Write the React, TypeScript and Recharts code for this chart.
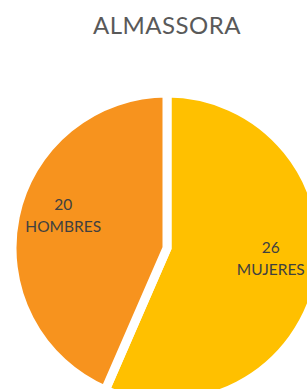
import React from "react";
import { PieChart, Pie, Cell } from "recharts";

const categories = ["MUJERES", "HOMBRES"];
const values = [26, 20];
const colors = ["#FFC000", "#F7931E"];
const title = "ALMASSORA";

const data = categories.map((name, i) => ({ name, value: values[i] }));
const total = values.reduce((a, b) => a + b, 0);

const CX = 167;
const CY = 248;
const RAD = Math.PI / 180;
const FONT = "Lato, 'Open Sans', sans-serif";

const labelPos = (index: number) => {
  const before = values.slice(0, index).reduce((a, b) => a + b, 0);
  const midFrac = (before + values[index] / 2) / total;
  const ang = (90 - 360 * midFrac) * RAD;
  const r = 106;
  return { x: CX + r * Math.cos(ang), y: CY - r * Math.sin(ang) - 16.5 };
};

export default function App() {
  return (
    <div style={{ position: "absolute", left: 0, top: 0, width: 307, height: 389, background: "#fff", overflow: "hidden" }}>
      <PieChart width={307} height={389} margin={{ top: 0, right: 0, bottom: 0, left: 0 }}>
        <Pie
          data={data}
          dataKey="value"
          nameKey="name"
          cx={CX}
          cy={CY}
          outerRadius={155}
          startAngle={90}
          endAngle={-270}
          stroke="#ffffff"
          strokeWidth={9}
          label={false}
          labelLine={false}
          isAnimationActive={false}
        >
          {data.map((d, i) => (
            <Cell key={d.name} fill={colors[i]} />
          ))}
        </Pie>
      </PieChart>
      <svg width={307} height={389} style={{ position: "absolute", left: 0, top: 0 }}>
        <text x={167} y={34} textAnchor="middle" fontFamily={FONT} fontSize={24} letterSpacing={0.5} fill="#595959">
          {title}
        </text>
        {categories.map((c, i) => {
          const p = labelPos(i);
          return (
            <text key={c} x={p.x} y={p.y} textAnchor="middle" fill="#404040" fontFamily={FONT} fontSize={15.5}>
              <tspan x={p.x} dy={0}>{values[i]}</tspan>
              <tspan x={p.x} dy={22}>{c}</tspan>
            </text>
          );
        })}
      </svg>
    </div>
  );
}
